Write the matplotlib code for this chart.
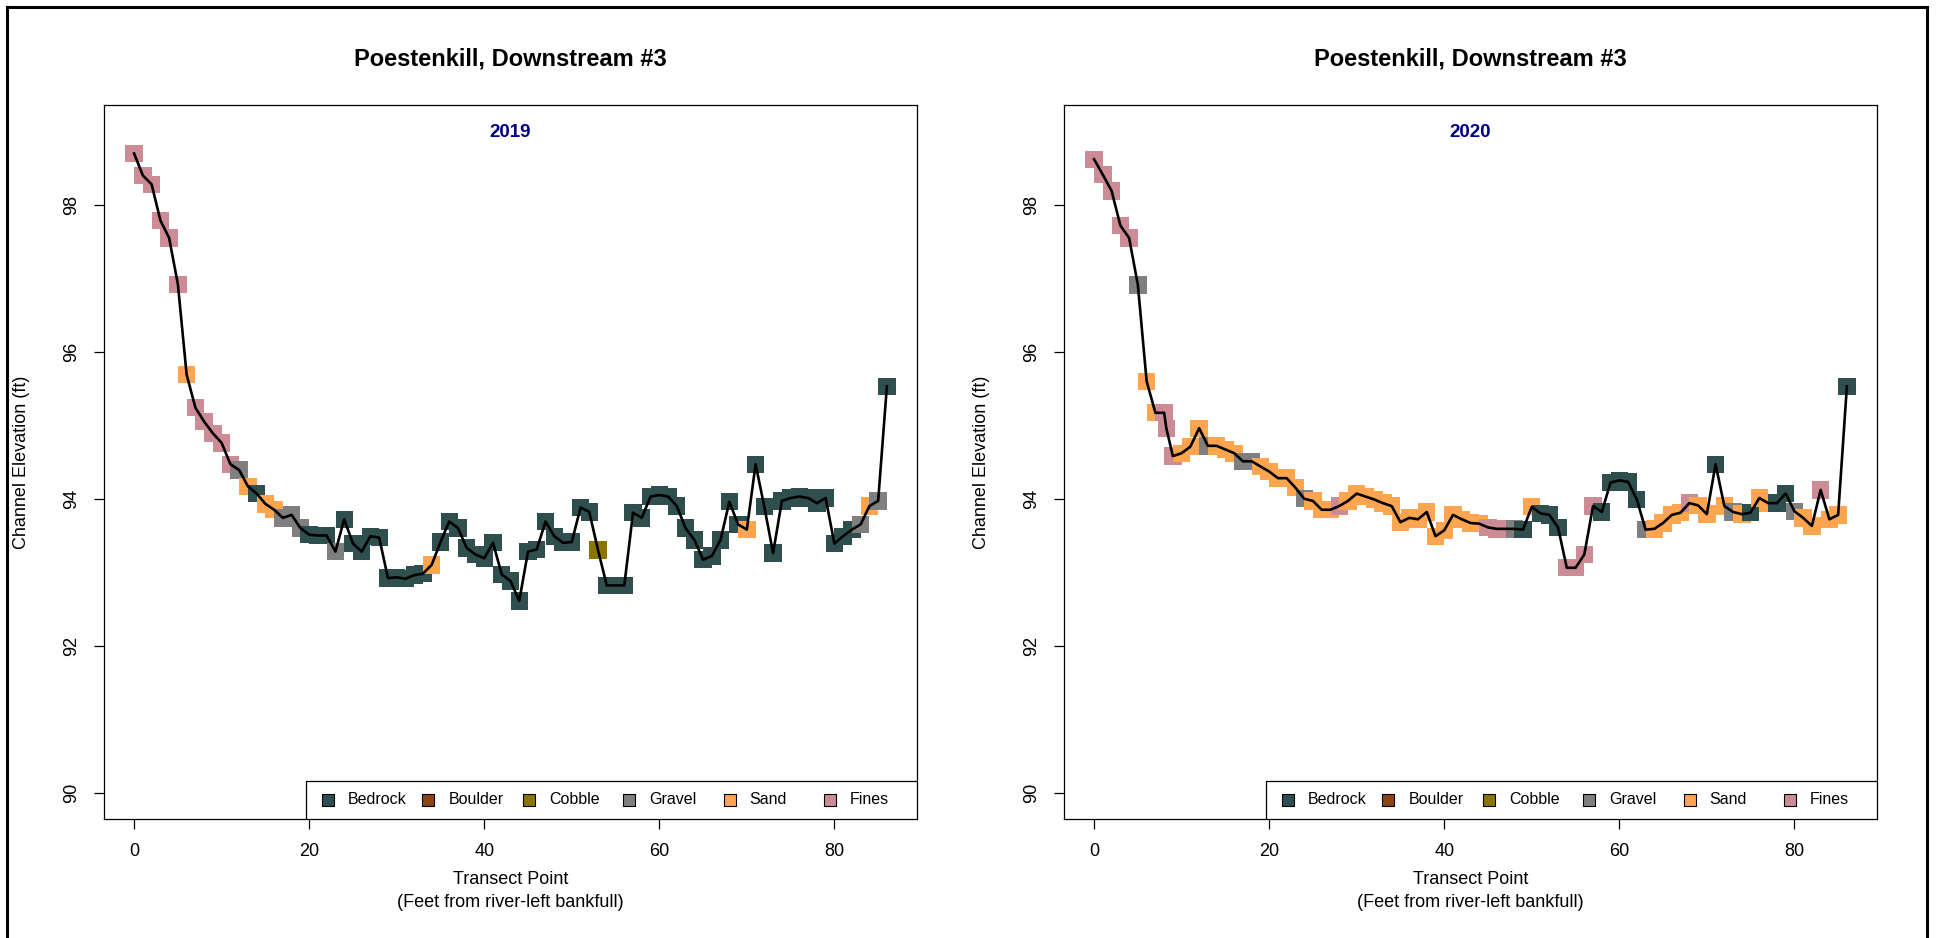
import matplotlib
matplotlib.use("Agg")
import matplotlib.pyplot as plt
from matplotlib.lines import Line2D
from matplotlib.patches import Rectangle

plt.rcParams['font.family'] = ['Liberation Sans', 'DejaVu Sans']

W, H, DPI = 1936, 938, 100

# Substrate classes and their fill colours
substrates = ["Bedrock", "Boulder", "Cobble", "Gravel", "Sand", "Fines"]
substrate_colors = ["#2F4F4F", "#8B4513", "#8B7500", "#7F7F7F", "#FFA54F", "#CD8C95"]
codes = {"Be": "Bedrock", "Bo": "Boulder", "Co": "Cobble",
         "Gr": "Gravel", "Sa": "Sand", "Fi": "Fines"}

# 2019 survey
x_2019 = list(range(87))
elev_2019 = [98.70, 98.40, 98.28, 97.79, 97.55, 96.92, 95.69, 95.24, 95.05, 94.89,
             94.76, 94.47, 94.39, 94.17, 94.07, 93.93, 93.85, 93.74, 93.78, 93.60,
             93.51, 93.50, 93.50, 93.28, 93.72, 93.39, 93.28, 93.49, 93.47, 92.92,
             92.93, 92.91, 92.96, 92.98, 93.10, 93.41, 93.69, 93.60, 93.33, 93.24,
             93.19, 93.40, 92.97, 92.88, 92.61, 93.28, 93.31, 93.69, 93.49, 93.40,
             93.41, 93.88, 93.82, 93.30, 92.82, 92.82, 92.82, 93.81, 93.74, 94.03,
             94.05, 94.03, 93.90, 93.60, 93.44, 93.17, 93.22, 93.44, 93.96, 93.65,
             93.58, 94.47, 93.89, 93.26, 93.97, 94.01, 94.03, 94.01, 93.94, 94.01,
             93.39, 93.49, 93.58, 93.65, 93.90, 93.97, 95.53]
sub_2019 = ["Fi", "Fi", "Fi", "Fi", "Fi", "Fi", "Sa", "Fi", "Fi", "Fi",
            "Fi", "Fi", "Gr", "Sa", "Be", "Sa", "Sa", "Gr", "Gr", "Gr",
            "Be", "Be", "Be", "Gr", "Be", "Be", "Be", "Be", "Be", "Be",
            "Be", "Be", "Be", "Be", "Sa", "Be", "Be", "Be", "Be", "Be",
            "Be", "Be", "Be", "Be", "Be", "Be", "Be", "Be", "Be", "Be",
            "Be", "Be", "Be", "Co", "Be", "Be", "Be", "Be", "Be", "Be",
            "Be", "Be", "Be", "Be", "Be", "Be", "Be", "Be", "Be", "Be",
            "Sa", "Be", "Be", "Be", "Be", "Be", "Be", "Be", "Be", "Be",
            "Be", "Be", "Be", "Gr", "Sa", "Gr", "Be"]

# 2020 survey
x_2020 = [0, 1, 2, 3, 4, 5, 6, 7, 8, 8.25, 9,
          10, 11, 12, 13, 14, 15, 16, 17, 18, 19,
          20, 21, 22, 23, 24, 25, 26, 27, 28, 29,
          30, 31, 32, 33, 34, 35, 36, 37, 38, 39,
          40, 41, 42, 43, 44, 45, 46, 47, 48, 49,
          50, 51, 52, 53, 54, 55, 56, 57, 58, 59,
          60, 61, 62, 63, 64, 65, 66, 67, 68, 69,
          70, 71, 72, 73, 74, 75, 76, 77, 78, 79,
          80, 81, 82, 83, 84, 85, 86]
elev_2020 = [98.62, 98.41, 98.19, 97.72, 97.55, 96.91, 95.60, 95.17, 95.17, 94.96, 94.58,
             94.62, 94.71, 94.96, 94.72, 94.72, 94.67, 94.62, 94.51, 94.51, 94.44,
             94.37, 94.28, 94.28, 94.15, 94.00, 93.97, 93.85, 93.85, 93.90, 93.97,
             94.07, 94.03, 93.99, 93.94, 93.90, 93.68, 93.74, 93.72, 93.82, 93.49,
             93.57, 93.78, 93.72, 93.67, 93.66, 93.61, 93.59, 93.59, 93.59, 93.58,
             93.89, 93.80, 93.78, 93.61, 93.06, 93.06, 93.24, 93.90, 93.82, 94.22,
             94.25, 94.23, 93.99, 93.58, 93.59, 93.67, 93.78, 93.81, 93.94, 93.91,
             93.79, 94.47, 93.90, 93.82, 93.79, 93.81, 94.01, 93.94, 93.94, 94.07,
             93.83, 93.74, 93.63, 94.12, 93.72, 93.78, 95.53]
sub_2020 = ["Fi", "Fi", "Fi", "Fi", "Fi", "Gr", "Sa", "Sa", "Fi", "Fi", "Fi",
            "Sa", "Sa", "Sa", "Gr", "Sa", "Sa", "Sa", "Gr", "Gr", "Sa",
            "Sa", "Sa", "Sa", "Sa", "Gr", "Sa", "Sa", "Sa", "Fi", "Sa",
            "Sa", "Sa", "Sa", "Sa", "Sa", "Sa", "Sa", "Sa", "Sa", "Sa",
            "Sa", "Sa", "Sa", "Sa", "Sa", "Fi", "Fi", "Fi", "Gr", "Be",
            "Sa", "Be", "Be", "Be", "Fi", "Fi", "Fi", "Fi", "Be", "Be",
            "Be", "Be", "Be", "Gr", "Sa", "Sa", "Sa", "Sa", "Fi", "Sa",
            "Sa", "Be", "Sa", "Gr", "Sa", "Be", "Sa", "Sa", "Be", "Be",
            "Gr", "Sa", "Sa", "Fi", "Sa", "Sa", "Be"]

site_title = "Poestenkill, Downstream #3"
x_label_1 = "Transect Point"
x_label_2 = "(Feet from river-left bankfull)"
y_label = "Channel Elevation (ft)"
x_ticks = [0, 20, 40, 60, 80]
y_ticks = [90, 92, 94, 96, 98]

color_of = dict(zip(substrates, substrate_colors))

fig = plt.figure(figsize=(W / DPI, H / DPI), dpi=DPI)


def px_box(left, top, right, bottom):
    return [left / W, 1 - bottom / H, (right - left) / W, (bottom - top) / H]


def fig_text(x_px, y_px, s, **kw):
    fig.text(x_px / W, 1 - y_px / H, s, **kw)


def draw_panel(left, right, year, xs, ys, subs):
    top, bottom = 105, 819
    ax = fig.add_axes(px_box(left, top, right, bottom))
    cols = [color_of[codes[s]] for s in subs]
    ax.scatter(xs, ys, marker="s", s=12.5 ** 2, c=cols, linewidths=0, zorder=2)
    ax.plot(xs, ys, color="black", lw=1.9, zorder=3)

    ax.set_xlim(-3.44, 89.44)
    ax.set_ylim(89.64, 99.36)
    ax.set_xticks(x_ticks)
    ax.set_yticks(y_ticks)
    ax.tick_params(axis="both", direction="out", length=7, width=0.9,
                   labelsize=13, colors="black")
    ax.tick_params(axis="x", pad=10)
    ax.tick_params(axis="y", pad=10)
    for lbl in ax.get_yticklabels():
        lbl.set_rotation(90)
        lbl.set_va("center")
    for sp in ax.spines.values():
        sp.set_linewidth(0.9)

    cx = (left + right) / 2
    fig_text(cx, 59, site_title, ha="center", va="center",
             fontsize=17, fontweight="bold")
    ax.text(0.5, 0.961, year, transform=ax.transAxes, ha="center", va="center",
            fontsize=13.5, fontweight="bold", color="#00008B")
    fig_text(cx, 879, x_label_1, ha="center", va="center", fontsize=13)
    fig_text(cx, 902, x_label_2, ha="center", va="center", fontsize=13)
    fig_text(left - 82, (top + bottom) / 2, y_label, ha="center", va="center",
             rotation=90, fontsize=13)

    # horizontal substrate key along the bottom-right of the panel
    aw = float(right - left)
    ah = float(bottom - top)
    lx0 = 202.0 / aw
    box_h = 38.0 / ah
    ax.add_patch(Rectangle((lx0, 0), 1 - lx0, box_h, transform=ax.transAxes,
                           facecolor="white", edgecolor="black", lw=0.9, zorder=4))
    for k, name in enumerate(substrates):
        hx = (224.0 + 100.4 * k) / aw
        ax.scatter([hx], [box_h / 2], marker="s", s=8.5 ** 2, c=[color_of[name]],
                   edgecolors="black", linewidths=0.8, transform=ax.transAxes,
                   zorder=5, clip_on=False)
        ax.text(hx + 20.0 / aw, box_h / 2, name, transform=ax.transAxes,
                ha="left", va="center", fontsize=11.5, zorder=5)
    return ax


ax1 = draw_panel(104, 917, "2019", x_2019, elev_2019, sub_2019)
ax2 = draw_panel(1064, 1877, "2020", x_2020, elev_2020, sub_2020)

# outer frame (left, top and right edges)
for xs_, ys_ in [([7, 7], [938, 7]), ([7, 1927], [7, 7]), ([1927, 1927], [7, 938])]:
    fig.add_artist(Line2D([v / W for v in xs_], [1 - v / H for v in ys_],
                          transform=fig.transFigure, color="black", lw=2.2))

fig.savefig("out.png", dpi=DPI)
